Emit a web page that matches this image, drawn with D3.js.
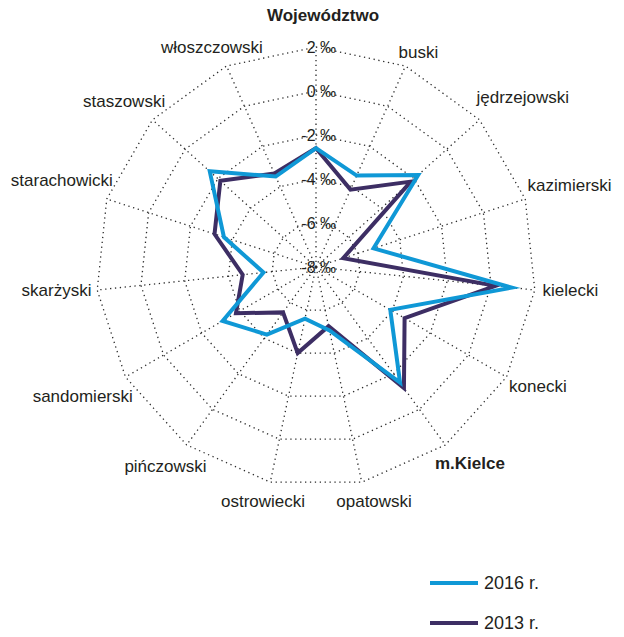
<!DOCTYPE html>
<html><head><meta charset="utf-8">
<script src="https://cdn.jsdelivr.net/npm/d3@7/dist/d3.min.js"></script>
<style>
body{margin:0;background:#fff}
text{font-family:"Liberation Sans",Arial,Helvetica,sans-serif;fill:#231f20}
</style>
</head><body>
<svg id="chart" width="624" height="637"></svg>
<script>
const categories = ["Województwo","buski","jędrzejowski","kazimierski","kielecki","konecki","m.Kielce","opatowski","ostrowiecki","pińczowski","sandomierski","skarżyski","starachowicki","staszowski","włoszczowski"];
const boldCategories = ["Województwo","m.Kielce"];
const values2016 = [-2.6,-3.45,-1.75,-5.25,0.95,-4.1,-1.5,-5.05,-5.6,-4.2,-3.1,-5.6,-3.6,-1.5,-3.5];
const values2013 = [-2.6,-4.15,-2.2,-6.7,0.2,-3.35,-1.2,-5.25,-4.0,-5.45,-3.8,-4.65,-3.15,-2.15,-3.35];
const tickValues = [-8,-6,-4,-2,0,2];
const tickLabels = ["-8 ‰","-6 ‰","-4 ‰","-2 ‰","0 ‰","2 ‰"];
const seriesNames = ["2016 r.","2013 r."];

const colors = {"2016 r.":"#0f98d6","2013 r.":"#3d2e64"};
const svg = d3.select("#chart");
const cx0 = 316, cy0 = 267;
const r = d3.scaleLinear().domain([-8,2]).range([0,220]);
const n = categories.length;
const angle = i => i*2*Math.PI/n;
const g = svg.append("g").attr("transform",`translate(${cx0},${cy0})`);

// grid rings
const ringLine = d3.lineRadial().angle((d,i)=>angle(i)).radius(d=>r(d)).curve(d3.curveLinearClosed);
tickValues.filter(v=>v>-8).forEach(v=>{
  g.append("path").attr("d", ringLine(categories.map(()=>v)))
   .attr("fill","none").attr("stroke","#2b2b2b").attr("stroke-width",1.3)
   .attr("stroke-dasharray","1.3,3.6");
});
// axes
categories.forEach((c,i)=>{
  const a = angle(i), R = r(2);
  g.append("line").attr("x1",0).attr("y1",0)
   .attr("x2",R*Math.sin(a)).attr("y2",-R*Math.cos(a))
   .attr("stroke","#2b2b2b").attr("stroke-width",1.3).attr("stroke-dasharray","1.3,3.6");
});

// series (2013 below, 2016 on top)
const seriesLine = d3.lineRadial().angle((d,i)=>angle(i)).radius(d=>r(d)).curve(d3.curveLinearClosed);
[["2013 r.",values2013],["2016 r.",values2016]].forEach(([name,vals])=>{
  g.append("path").attr("d",seriesLine(vals)).attr("fill","none")
   .attr("stroke",colors[name]).attr("stroke-width",4).attr("stroke-linejoin","miter").attr("stroke-miterlimit",10);
});

// tick labels
tickValues.forEach((v,k)=>{
  g.append("text").attr("x",20).attr("y",-r(v)).attr("dy","0.35em")
   .attr("text-anchor","end").style("font-size","16px").text(tickLabels[k]);
});

// category labels
const L = 232;
const labelNudge = [[7,-13],[0,3],[0,-10],[-7,-8],[-4,-2],[-4,0],[-3,3],[2,1],[4,1],[10,6],[11,10],[6,-2],[15,-13],[11,-6],[11,-2]];
categories.forEach((c,i)=>{
  const a = angle(i), s = Math.sin(a), co = Math.cos(a);
  const t = g.append("text").text(c).attr("text-anchor","middle").attr("dy","0.35em")
    .style("font-size","17px").style("font-weight", boldCategories.includes(c)?"bold":"normal");
  const w = t.node().getComputedTextLength();
  const x = L*s + s*w/2 + labelNudge[i][0];
  const y = -L*co - co*6.5 + labelNudge[i][1];
  t.attr("x",x).attr("y",y);
});

// legend
const legend = svg.append("g");
const ly = d3.scalePoint().domain(seriesNames).range([583,623]);
seriesNames.forEach(name=>{
  legend.append("line").attr("x1",430).attr("x2",478).attr("y1",ly(name)).attr("y2",ly(name))
    .attr("stroke",colors[name]).attr("stroke-width",4);
  legend.append("text").attr("x",484).attr("y",ly(name)).attr("dy","0.35em")
    .style("font-size","18px").text(name);
});
</script>
</body></html>
